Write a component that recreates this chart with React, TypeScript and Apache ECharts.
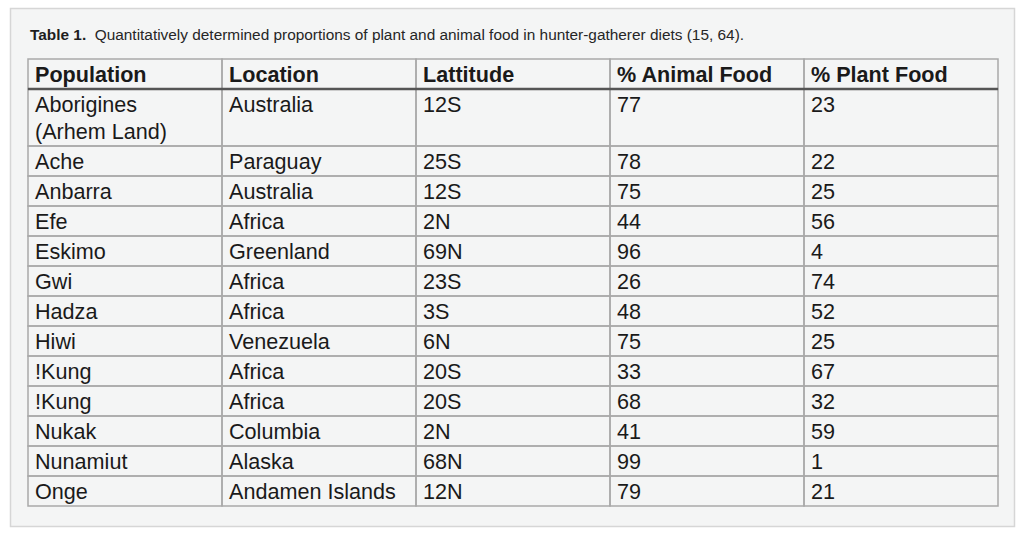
import React, { useEffect, useRef } from "react";
import * as echarts from "echarts";

const titleBold = "Table 1.";
const titleText = "Quantitatively determined proportions of plant and animal food in hunter-gatherer diets (15, 64).";
const headers = ["Population", "Location", "Lattitude", "% Animal Food", "% Plant Food"];
const populations = [
  "Aborigines\n(Arhem Land)", "Ache", "Anbarra", "Efe", "Eskimo", "Gwi", "Hadza",
  "Hiwi", "!Kung", "!Kung", "Nukak", "Nunamiut", "Onge",
];
const locations = [
  "Australia", "Paraguay", "Australia", "Africa", "Greenland", "Africa", "Africa",
  "Venezuela", "Africa", "Africa", "Columbia", "Alaska", "Andamen Islands",
];
const latitudes = ["12S", "25S", "12S", "2N", "69N", "23S", "3S", "6N", "20S", "20S", "2N", "68N", "12N"];
const animalFood = [77, 78, 75, 44, 96, 26, 48, 75, 33, 68, 41, 99, 79];
const plantFood = [23, 22, 25, 56, 4, 74, 52, 25, 67, 32, 59, 1, 21];

const FONT = "Liberation Sans";
const HEADER_H = 30;
const LINE_H = 27;
const PAD_H = 3;

export default function App() {
  const ref = useRef<HTMLDivElement>(null);

  useEffect(() => {
    if (!ref.current) return;
    const chart = echarts.init(ref.current, null, { renderer: "svg" });

    type Cell = { v: number[]; text: string; header: boolean };
    const cells: Cell[] = [];
    headers.forEach((h, c) => cells.push({ v: [c, 0, HEADER_H], text: h, header: true }));
    let y = HEADER_H;
    populations.forEach((p, r) => {
      const lines = p.split("\n").length;
      const h = PAD_H + LINE_H * lines;
      const row = [p, locations[r], latitudes[r], String(animalFood[r]), String(plantFood[r])];
      row.forEach((t, c) => cells.push({ v: [c, y, y + h], text: t, header: false }));
      y += h;
    });
    const totalH = y;

    const option: any = {
      animation: false,
      grid: { left: 28, top: 59, width: 970, height: totalH, containLabel: false },
      xAxis: { type: "value", min: 0, max: 5, show: false },
      yAxis: { type: "value", min: 0, max: totalH, inverse: true, show: false },
      graphic: [
        {
          type: "rect",
          z: -10,
          shape: { x: 10.5, y: 8.5, width: 1004, height: 518 },
          style: { fill: "#f4f5f5", stroke: "#d6d6d6", lineWidth: 1.5 },
        },
        {
          type: "text",
          x: 30,
          y: 34,
          style: {
            text: `{b|${titleBold}}  ${titleText}`,
            fontFamily: FONT,
            fontSize: 15.4,
            fill: "#262626",
            verticalAlign: "middle",
            rich: {
              b: { fontFamily: FONT, fontSize: 15.4, fontWeight: "bold", fill: "#1e1e1e" },
            },
          },
        },
      ],
      series: [
        {
          type: "custom",
          data: cells.map((c) => c.v),
          encode: { x: [0], y: [1, 2] },
          clip: false,
          renderItem: (params: any, api: any) => {
            const cell = cells[params.dataIndex];
            const col = api.value(0);
            const p0 = api.coord([col, api.value(1)]);
            const p1 = api.coord([col + 1, api.value(2)]);
            const children: any[] = [
              {
                type: "rect",
                shape: { x: p0[0], y: p0[1], width: p1[0] - p0[0], height: p1[1] - p0[1] },
                style: { fill: "none", stroke: "#a9a9a9", lineWidth: 1.5 },
              },
              {
                type: "text",
                x: p0[0] + 7,
                y: p0[1] + 1.5,
                style: {
                  text: cell.text,
                  fontFamily: FONT,
                  fontSize: 21.6,
                  fontWeight: cell.header ? "bold" : "normal",
                  fill: "#1a1a1a",
                  verticalAlign: "top",
                  lineHeight: LINE_H,
                },
              },
            ];
            if (cell.header) {
              children.push({
                type: "line",
                shape: { x1: p0[0], y1: p1[1], x2: p1[0], y2: p1[1] },
                style: { stroke: "#555", lineWidth: 2.5 },
                z2: 10,
              });
            }
            return { type: "group", children };
          },
        },
      ],
    };
    chart.setOption(option);
    return () => chart.dispose();
  }, []);

  return (
    <div
      ref={ref}
      style={{ position: "fixed", left: 0, top: 0, width: 1024, height: 535, background: "#fff" }}
    />
  );
}
